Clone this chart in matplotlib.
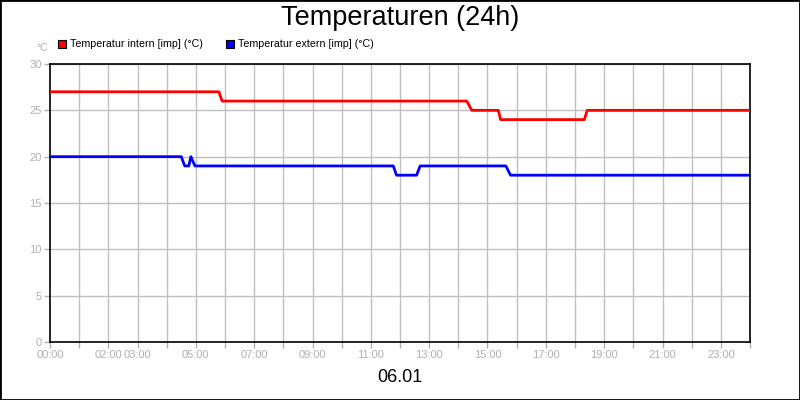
import matplotlib
matplotlib.use("Agg")
from matplotlib import pyplot as plt
from matplotlib.patches import Rectangle
import numpy as np

plt.rcParams['font.family'] = ['Liberation Sans', 'DejaVu Sans']

# time in hours, values in deg C
t_intern = [0, 5.79, 5.9, 14.29, 14.46, 15.37, 15.45, 18.32, 18.42, 23.95]
v_intern = [27, 27, 26, 26, 25, 25, 24, 24, 25, 25]

t_extern = [0, 4.5, 4.62, 4.76, 4.83, 4.97, 11.77, 11.88, 12.57, 12.69, 15.63, 15.79, 23.95]
v_extern = [20, 20, 19, 19, 20, 19, 19, 18, 18, 19, 19, 18, 18]

tick_hours = [0, 2, 3, 5, 7, 9, 11, 13, 15, 17, 19, 21, 23]
y_ticks = [0, 5, 10, 15, 20, 25, 30]

series = ["Temperatur intern [imp] (°C)", "Temperatur extern [imp] (°C)"]
colors = ["#ff0000", "#0000ff"]

fig = plt.figure(figsize=(8, 4), dpi=100)
ax = fig.add_axes([50/800, 58/400, 700/800, 278/400])

# grid
for h in range(1, 24):
    ax.axvline(h, color="#c0c0c0", lw=1, zorder=1)
for y in y_ticks:
    ax.axhline(y, color="#c0c0c0", lw=1, zorder=1)

ax.plot(t_intern, v_intern, color=colors[0], lw=2, zorder=3)
ax.plot(t_extern, v_extern, color=colors[1], lw=2, zorder=3)

ax.set_xlim(0, 24)
ax.set_ylim(0, 30)
ax.set_xticks(range(0, 25))
ax.set_xticklabels([("%02d:00" % h) if h in tick_hours else "" for h in range(0, 25)],
                   fontsize=8, color="#b0b0b0", family=['Liberation Sans Narrow', 'Liberation Sans'])
ax.set_yticks(y_ticks)
ax.set_yticklabels([str(y) for y in y_ticks], fontsize=8, color="#b0b0b0")
ax.tick_params(axis="both", colors="#b0b0b0", length=4, width=1, labelcolor="#b0b0b0")
ax.tick_params(axis="x", pad=2)
ax.tick_params(axis="y", pad=2)
for s in ax.spines.values():
    s.set_color("black")
    s.set_linewidth(1.2)

fig.text(0.5, 1 - 18/400, "Temperaturen (24h)", ha="center", va="center", fontsize=19.5)
fig.text(0.5, 1 - 378/400, "06.01", ha="center", va="center", fontsize=13)
fig.text(42/800, 1 - 48/400, "°C", ha="center", va="center", fontsize=7.5, color="#b0b0b0")

# legend
lx = [58, 226]
for x0, name, c in zip(lx, series, colors):
    fig.patches.append(Rectangle((x0/800, 1 - 48/400), 8/800, 8/400, transform=fig.transFigure,
                                 facecolor=c, edgecolor="black", lw=0.8))
    fig.text((x0 + 12)/800, 1 - 44/400, name, ha="left", va="center", fontsize=7.7)

# outer border
fig.patches.append(Rectangle((0, 0), 1, 1, transform=fig.transFigure, fill=False,
                             edgecolor="black", lw=2))

fig.savefig("out.png", dpi=100)
